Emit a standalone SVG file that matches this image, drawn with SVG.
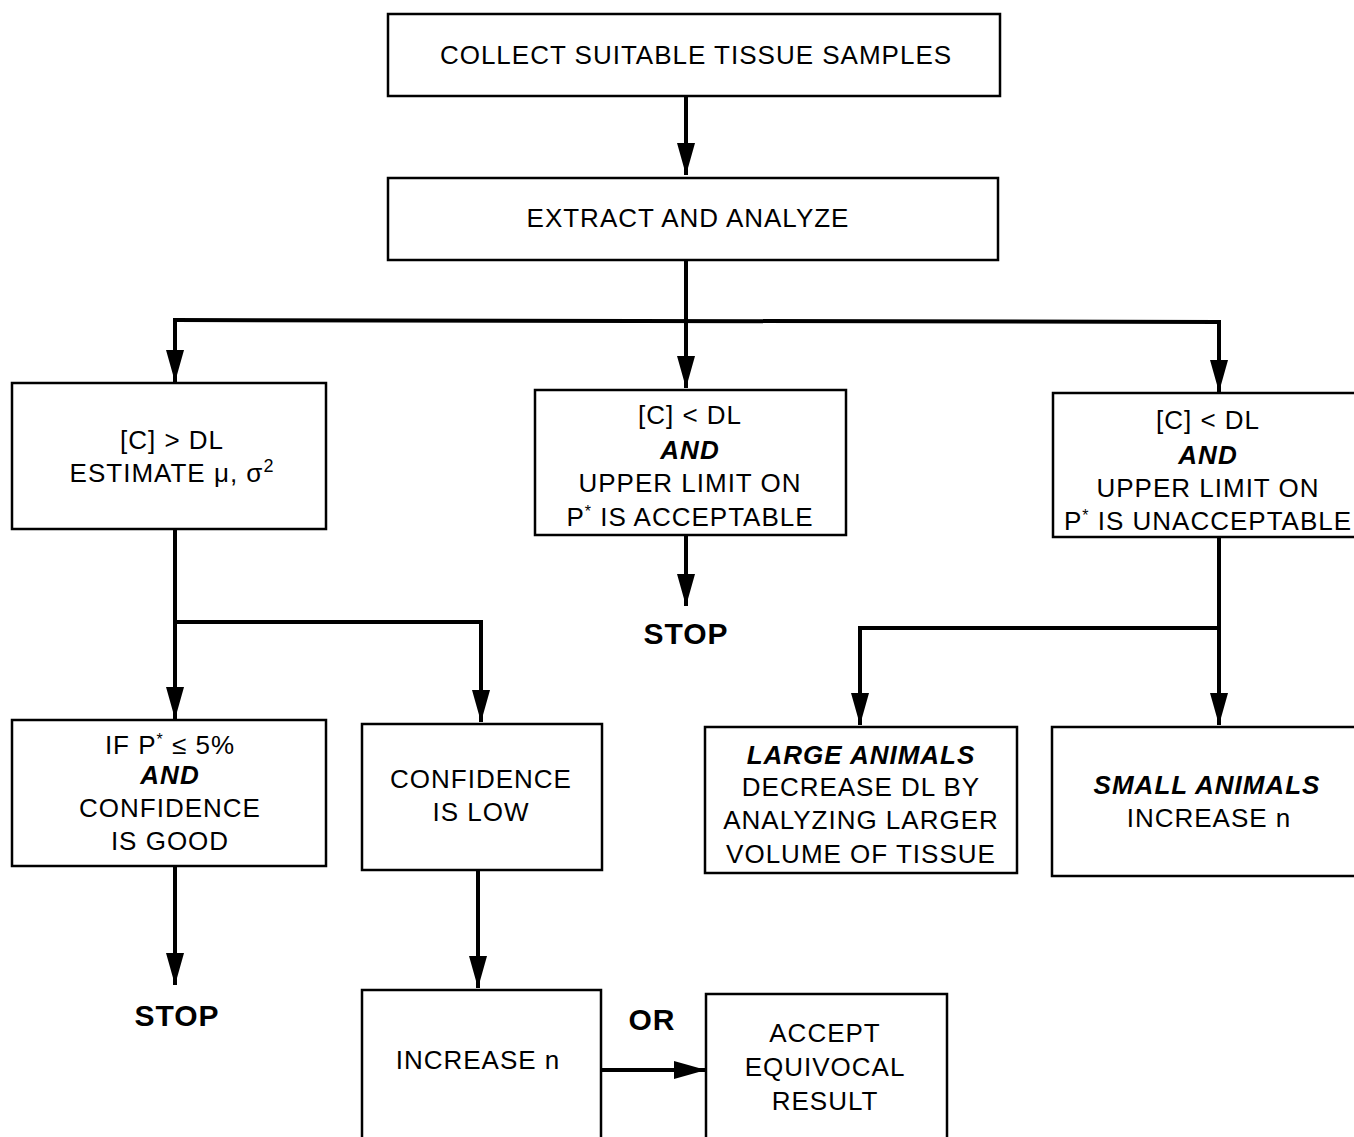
<svg xmlns="http://www.w3.org/2000/svg" width="1354" height="1137" viewBox="0 0 1354 1137">
<style>
.box{fill:#fff;stroke:#000;stroke-width:2.5}
text{font-family:"Liberation Sans",Arial,sans-serif;font-size:26px;letter-spacing:1px;fill:#000;text-anchor:middle}
.it{font-style:italic;font-weight:bold}
.b{font-weight:bold;font-size:30px}
.ln{fill:none;stroke:#000;stroke-width:4}
</style>
<defs>
<marker id="ah" markerUnits="userSpaceOnUse" markerWidth="34" markerHeight="20" refX="32" refY="10" orient="auto">
<path d="M0,1 L32,10 L0,19 z" fill="#000"/>
</marker>
</defs>
<rect width="1354" height="1137" fill="#fff"/>
<g id="connectors">
<line class="ln" x1="686" y1="96" x2="686" y2="175" marker-end="url(#ah)"/>
<polyline class="ln" points="686,260 686,320"/>
<polyline class="ln" points="175,320 1219,322"/>
<line class="ln" x1="175" y1="318" x2="175" y2="382" marker-end="url(#ah)"/>
<line class="ln" x1="686" y1="320" x2="686" y2="388" marker-end="url(#ah)"/>
<line class="ln" x1="1219" y1="320" x2="1219" y2="392" marker-end="url(#ah)"/>
<line class="ln" x1="686" y1="535" x2="686" y2="606" marker-end="url(#ah)"/>
<line class="ln" x1="175" y1="529" x2="175" y2="719" marker-end="url(#ah)"/>
<polyline class="ln" points="175,622 481,622 481,722" marker-end="url(#ah)"/>
<line class="ln" x1="175" y1="866" x2="175" y2="985" marker-end="url(#ah)"/>
<line class="ln" x1="478" y1="870" x2="478" y2="988" marker-end="url(#ah)"/>
<line class="ln" x1="601" y1="1070" x2="706" y2="1070" marker-end="url(#ah)"/>
<line class="ln" x1="1219" y1="537" x2="1219" y2="725" marker-end="url(#ah)"/>
<polyline class="ln" points="1219,628 860,628 860,725" marker-end="url(#ah)"/>
</g>
<g id="n1"><rect class="box" x="388" y="14" width="612" height="82"/><text x="696" y="64">COLLECT SUITABLE TISSUE SAMPLES</text></g>
<g id="n2"><rect class="box" x="388" y="178" width="610" height="82"/><text x="688" y="227">EXTRACT AND ANALYZE</text></g>
<g id="n3"><rect class="box" x="12" y="383" width="314" height="146"/>
<text x="172" y="449">[C] &gt; DL</text>
<text x="172" y="482">ESTIMATE μ, σ<tspan font-size="18" dy="-10">2</tspan></text></g>
<g id="n4"><rect class="box" x="535" y="390" width="311" height="145"/>
<text x="690" y="424">[C] &lt; DL</text>
<text x="690" y="459" class="it">AND</text>
<text x="690" y="492">UPPER LIMIT ON</text>
<text x="690" y="526">P<tspan font-size="16" dy="-9">*</tspan><tspan dy="9"> IS ACCEPTABLE</tspan></text></g>
<g id="n5"><rect class="box" x="1053" y="393" width="305" height="144"/>
<text x="1208" y="429">[C] &lt; DL</text>
<text x="1208" y="464" class="it">AND</text>
<text x="1208" y="497">UPPER LIMIT ON</text>
<text x="1208" y="530">P<tspan font-size="16" dy="-9">*</tspan><tspan dy="9"> IS UNACCEPTABLE</tspan></text></g>
<g id="n6"><text x="686" y="644" class="b">STOP</text></g>
<g id="n7"><rect class="box" x="12" y="720" width="314" height="146"/>
<text x="170" y="754">IF P<tspan font-size="16" dy="-9">*</tspan><tspan dy="9"> ≤ 5%</tspan></text>
<text x="170" y="784" class="it">AND</text>
<text x="170" y="817">CONFIDENCE</text>
<text x="170" y="850">IS GOOD</text></g>
<g id="n8"><rect class="box" x="362" y="724" width="240" height="146"/>
<text x="481" y="788">CONFIDENCE</text>
<text x="481" y="821">IS LOW</text></g>
<g id="n9"><rect class="box" x="705" y="727" width="312" height="146"/>
<text x="861" y="764" class="it">LARGE ANIMALS</text>
<text x="861" y="796">DECREASE DL BY</text>
<text x="861" y="829">ANALYZING LARGER</text>
<text x="861" y="863">VOLUME OF TISSUE</text></g>
<g id="n10"><rect class="box" x="1052" y="727" width="306" height="149"/>
<text x="1207" y="794" class="it">SMALL ANIMALS</text>
<text x="1209" y="827">INCREASE n</text></g>
<g id="n11"><text x="177" y="1026" class="b">STOP</text></g>
<g id="n12"><rect class="box" x="362" y="990" width="239" height="150"/>
<text x="478" y="1069">INCREASE n</text></g>
<g id="n13"><text x="652" y="1030" class="b">OR</text></g>
<g id="n14"><rect class="box" x="706" y="994" width="241" height="146"/>
<text x="825" y="1042">ACCEPT</text>
<text x="825" y="1076">EQUIVOCAL</text>
<text x="825" y="1110">RESULT</text></g>
</svg>
